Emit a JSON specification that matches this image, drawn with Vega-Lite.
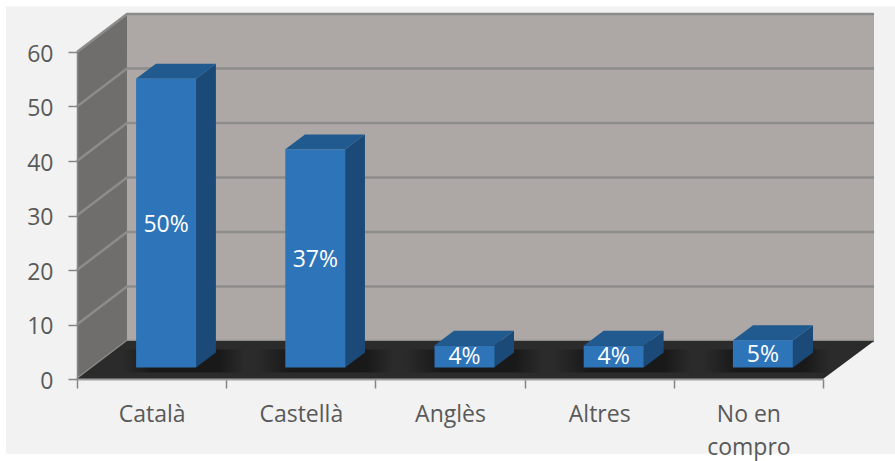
{
"$schema":"https://vega.github.io/schema/vega-lite/v6.json",
"width":797,"height":366,
"autosize":{"type":"none"},
"padding":{"left":77,"top":13,"right":21,"bottom":82},
"background":"#FFFFFF",
"view":{"stroke":null},
"datasets":{
"barres":[
{"categoria":"Català","valor":53,"etiqueta":"50%","mig":28.3},
{"categoria":"Castellà","valor":40,"etiqueta":"37%","mig":21.8},
{"categoria":"Anglès","valor":4,"etiqueta":"4%","mig":4},
{"categoria":"Altres","valor":4,"etiqueta":"4%","mig":4},
{"categoria":"No en compro","valor":5,"etiqueta":"5%","mig":4.4}
],
"panell":[
{"x":-0.476,"y":-13.7,"y2":68.4},
{"x":5.483,"y":-13.7,"y2":68.4}
],
"paret":[
{"x":0.335,"y":6.97,"y2":67},
{"x":5.342,"y":6.97,"y2":67}
],
"lateral":[
{"x":0,"y":0,"y2":60},
{"x":0.335,"y":6.97,"y2":67}
],
"terra":[
{"x":0,"y":0,"y2":0},
{"x":0.335,"y":0,"y2":6.97},
{"x":5,"y":0,"y2":6.97},
{"x":5.342,"y":6.97,"y2":6.97}
],
"graella":[
{"nivell":0,"x":0,"y":0},{"nivell":0,"x":0.335,"y":6.97},{"nivell":0,"x":5.342,"y":6.97},
{"nivell":10,"x":0,"y":10},{"nivell":10,"x":0.335,"y":16.97},{"nivell":10,"x":5.342,"y":16.97},
{"nivell":20,"x":0,"y":20},{"nivell":20,"x":0.335,"y":26.97},{"nivell":20,"x":5.342,"y":26.97},
{"nivell":30,"x":0,"y":30},{"nivell":30,"x":0.335,"y":36.97},{"nivell":30,"x":5.342,"y":36.97},
{"nivell":40,"x":0,"y":40},{"nivell":40,"x":0.335,"y":46.97},{"nivell":40,"x":5.342,"y":46.97},
{"nivell":50,"x":0,"y":50},{"nivell":50,"x":0.335,"y":56.97},{"nivell":50,"x":5.342,"y":56.97},
{"nivell":60,"x":0,"y":60},{"nivell":60,"x":0.335,"y":66.97},{"nivell":60,"x":5.342,"y":66.97}
],
"ombres":[
{"barra":"Català","x":0.3,"y":1.2,"y2":5.4},{"barra":"Català","x":1.12,"y":1.2,"y2":5.4},
{"barra":"Castellà","x":1.2,"y":1.2,"y2":5.4},{"barra":"Castellà","x":2.12,"y":1.2,"y2":5.4},
{"barra":"Anglès","x":2.2,"y":1.2,"y2":5.4},{"barra":"Anglès","x":3.12,"y":1.2,"y2":5.4},
{"barra":"Altres","x":3.2,"y":1.2,"y2":5.4},{"barra":"Altres","x":4.12,"y":1.2,"y2":5.4},
{"barra":"No en compro","x":4.2,"y":1.2,"y2":5.4},{"barra":"No en compro","x":5.05,"y":1.2,"y2":5.4}
],
"cares":[
{"barra":"Català","cara":"costat","x":0.797,"y":2.1,"y2":55.1},{"barra":"Català","cara":"costat","x":0.931,"y":4.85,"y2":57.85},
{"barra":"Castellà","cara":"costat","x":1.796,"y":2.1,"y2":42.1},{"barra":"Castellà","cara":"costat","x":1.93,"y":4.85,"y2":44.85},
{"barra":"Anglès","cara":"costat","x":2.795,"y":2.1,"y2":6.1},{"barra":"Anglès","cara":"costat","x":2.929,"y":4.85,"y2":8.85},
{"barra":"Altres","cara":"costat","x":3.798,"y":2.1,"y2":6.1},{"barra":"Altres","cara":"costat","x":3.932,"y":4.85,"y2":8.85},
{"barra":"No en compro","cara":"costat","x":4.799,"y":2.1,"y2":7.1},{"barra":"No en compro","cara":"costat","x":4.933,"y":4.85,"y2":9.85},
{"barra":"Català","cara":"sostre","x":0.395,"y":55.1,"y2":55.1},{"barra":"Català","cara":"sostre","x":0.529,"y":55.1,"y2":57.85},{"barra":"Català","cara":"sostre","x":0.797,"y":55.1,"y2":57.85},{"barra":"Català","cara":"sostre","x":0.931,"y":57.85,"y2":57.85},
{"barra":"Castellà","cara":"sostre","x":1.394,"y":42.1,"y2":42.1},{"barra":"Castellà","cara":"sostre","x":1.528,"y":42.1,"y2":44.85},{"barra":"Castellà","cara":"sostre","x":1.796,"y":42.1,"y2":44.85},{"barra":"Castellà","cara":"sostre","x":1.93,"y":44.85,"y2":44.85},
{"barra":"Anglès","cara":"sostre","x":2.393,"y":6.1,"y2":6.1},{"barra":"Anglès","cara":"sostre","x":2.527,"y":6.1,"y2":8.85},{"barra":"Anglès","cara":"sostre","x":2.795,"y":6.1,"y2":8.85},{"barra":"Anglès","cara":"sostre","x":2.929,"y":8.85,"y2":8.85},
{"barra":"Altres","cara":"sostre","x":3.396,"y":6.1,"y2":6.1},{"barra":"Altres","cara":"sostre","x":3.53,"y":6.1,"y2":8.85},{"barra":"Altres","cara":"sostre","x":3.798,"y":6.1,"y2":8.85},{"barra":"Altres","cara":"sostre","x":3.932,"y":8.85,"y2":8.85},
{"barra":"No en compro","cara":"sostre","x":4.397,"y":7.1,"y2":7.1},{"barra":"No en compro","cara":"sostre","x":4.531,"y":7.1,"y2":9.85},{"barra":"No en compro","cara":"sostre","x":4.799,"y":7.1,"y2":9.85},{"barra":"No en compro","cara":"sostre","x":4.933,"y":9.85,"y2":9.85}
]
},
"encoding":{
"y":{"type":"quantitative","scale":{"domain":[0,60],"range":[366,39],"nice":false,"zero":false},"title":null}
},
"layer":[
{"encoding":{
 "x":{"type":"quantitative","field":"x","scale":{"domain":[0,5],"range":[0,746],"nice":false,"zero":false},"axis":null},
 "y":{"field":"y","type":"quantitative","axis":{"values":[0,10,20,30,40,50,60],"grid":false,"domain":true,"domainColor":"#868686","domainWidth":1.5,"tickColor":"#868686","tickWidth":1.5,"tickSize":9,"labelFont":"Open Sans","labelFontSize":23,"labelColor":"#595959","labelPadding":15,"labelOffset":2,"zindex":1,"title":null}}
 },
 "layer":[
 {"data":{"name":"panell"},"mark":{"type":"area","color":"#F2F2F2"},"encoding":{"y2":{"field":"y2"}}},
 {"data":{"name":"paret"},"mark":{"type":"area","color":"#ADA8A6"},"encoding":{"y2":{"field":"y2"}}},
 {"data":{"name":"lateral"},"mark":{"type":"area","color":"#706D6D"},"encoding":{"y2":{"field":"y2"}}},
 {"data":{"name":"graella"},"mark":{"type":"line","color":"#8C8C8A","strokeWidth":2.5},
  "encoding":{"detail":{"field":"nivell","type":"nominal"},"order":{"field":"x"}}},
 {"data":{"name":"terra"},"mark":{"type":"area","color":"#2B2B2B"},
  "encoding":{"y2":{"field":"y2"}}},
 {"data":{"name":"ombres"},"mark":{"type":"area","color":{"gradient":"linear","x1":0,"x2":1,"y1":0,"y2":0,"stops":[{"offset":0,"color":"#2B2B2B"},{"offset":0.25,"color":"#191919"},{"offset":0.8,"color":"#191919"},{"offset":1,"color":"#2B2B2B"}]}},
  "encoding":{"y2":{"field":"y2"},"detail":{"field":"barra","type":"nominal"}}},
 {"data":{"name":"cares"},"mark":{"type":"area"},
  "encoding":{"y2":{"field":"y2"},"detail":{"field":"barra","type":"nominal"},
   "color":{"field":"cara","type":"nominal","scale":{"domain":["costat","sostre"],"range":["#1C4A78","#205A8F"]},"legend":null}}}
 ]
},
{"data":{"name":"barres"},
 "encoding":{
  "x":{"field":"categoria","type":"nominal","sort":null,"scale":{"type":"band","domain":["Català","Castellà","Anglès","Altres","No en compro"],"range":[0,746],"paddingInner":0,"paddingOuter":0},
   "axis":{"title":null,"labelAngle":0,"tickBand":"extent","domain":true,"domainColor":"#A0A0A0","domainWidth":2,"tickColor":"#868686","tickWidth":1.5,"tickSize":9,"labelFont":"Open Sans","labelFontSize":23,"labelColor":"#595959","labelPadding":15,"labelLineHeight":33,"labelExpr":"datum.label == 'No en compro' ? ['No en','compro'] : datum.label","zindex":1}}
 },
 "layer":[
 {"mark":{"type":"bar","width":60,"xOffset":14.5,"yOffset":-11.5,"y2Offset":-11.5,"color":"#2E74B8"},
  "encoding":{"y":{"field":"valor","type":"quantitative"},"y2":{"datum":0}}},
 {"mark":{"type":"text","xOffset":14.5,"color":"#FFFFFF","font":"Open Sans","fontSize":23},
  "encoding":{"y":{"field":"mig","type":"quantitative"},"text":{"field":"etiqueta"}}}
 ]
}
],
"resolve":{"scale":{"x":"independent"},"axis":{"x":"independent","y":"shared"}}
}
